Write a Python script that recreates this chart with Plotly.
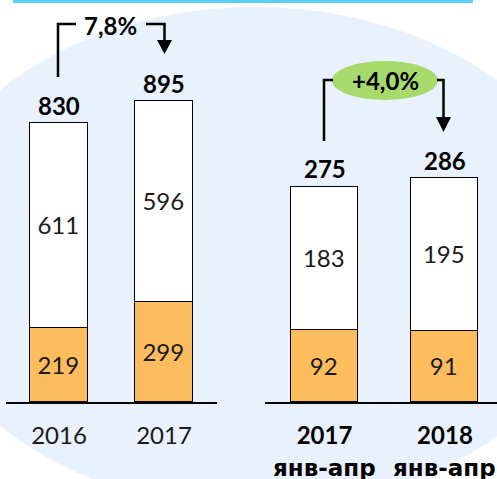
import plotly.graph_objects as go

W, H = 497, 479

# ---- data ----
years = ["2016", "2017"]
ytd_years = ["2017", "2018"]
ytd_period = "янв-апр"
annual_bottom = [219, 299]
annual_top = [611, 596]
annual_total = [830, 895]
ytd_bottom = [92, 91]
ytd_top = [183, 195]
ytd_total = [275, 286]
growth_annual = "7,8%"
growth_ytd = "+4,0%"

# ---- styles ----
ORANGE = "#fdbc5e"
GREEN = "#a8d96c"
BG_BLUE = "#e9f2fc"
TOP_LINE = "#5ecdf3"
TXT = "#1a1a1a"
FONT = "Lato"
FS = 24


def px(x):
    return x / W


def py(y):
    return 1 - y / H


fig = go.Figure()

pos = [0, 1]
for xa, ya, bottom, top, width in [
    ("x", "y", annual_bottom, annual_top, 0.552),
    ("x2", "y2", ytd_bottom, ytd_top, 0.556),
]:
    fig.add_trace(go.Bar(
        x=pos, y=bottom, xaxis=xa, yaxis=ya, width=width,
        marker=dict(color=ORANGE, line=dict(color="#000", width=1.5)),
        text=[str(v) for v in bottom], textposition="inside",
        insidetextanchor="middle", textangle=0,
        textfont=dict(family=FONT, size=FS, color=TXT),
        hoverinfo="skip",
    ))
    fig.add_trace(go.Bar(
        x=pos, y=top, xaxis=xa, yaxis=ya, width=width,
        marker=dict(color="#ffffff", line=dict(color="#000", width=1.5)),
        text=[str(v) for v in top], textposition="inside",
        insidetextanchor="middle", textangle=0,
        textfont=dict(family=FONT, size=FS, color=TXT),
        hoverinfo="skip",
    ))

annotations = []
for xr, yr, totals in [("x", "y", annual_total), ("x2", "y2", ytd_total)]:
    for i, t in enumerate(totals):
        annotations.append(dict(
            x=pos[i], y=t, xref=xr, yref=yr, text=f"<b>{t}</b>",
            showarrow=False, xanchor="center", yanchor="middle", yshift=18,
            font=dict(family=FONT, size=FS, color="#000"),
        ))

# second line of the YTD category labels
for i in pos:
    annotations.append(dict(
        x=i, y=py(468), xref="x2", yref="paper", text=f"<b>{ytd_period}</b>",
        showarrow=False, xanchor="center", yanchor="middle",
        font=dict(family="DejaVu Sans", size=23, color="#000"),
    ))

annotations.append(dict(
    x=px(110), y=py(25), xref="paper", yref="paper",
    text=f"<b>{growth_annual}</b>", showarrow=False,
    xanchor="center", yanchor="middle",
    font=dict(family=FONT, size=FS, color="#000"),
))
annotations.append(dict(
    x=px(385), y=py(81), xref="paper", yref="paper",
    text=f"<b>{growth_ytd}</b>", showarrow=False,
    xanchor="center", yanchor="middle",
    font=dict(family=FONT, size=FS, color="#000"),
))


def path(points, close=False):
    s = " ".join(("M" if k == 0 else "L") + f" {px(x):.5f},{py(y):.5f}"
                 for k, (x, y) in enumerate(points))
    return s + (" Z" if close else "")


shapes = [
    # background ellipse
    dict(type="circle", xref="paper", yref="paper", layer="below",
         x0=px(255 - 343), x1=px(255 + 343), y0=py(258 + 251), y1=py(258 - 251),
         fillcolor=BG_BLUE, line=dict(width=0)),
    # top line
    dict(type="line", xref="paper", yref="paper",
         x0=px(13), x1=px(473), y0=py(1.5), y1=py(1.5),
         line=dict(color=TOP_LINE, width=3)),
    # green ellipse
    dict(type="circle", xref="paper", yref="paper", layer="below",
         x0=px(332), x1=px(438), y0=py(100), y1=py(61),
         fillcolor=GREEN, line=dict(width=0)),
]
LINE = dict(color="#000", width=2.5)
for pts in [
    [(58, 77), (58, 24), (76, 24)],
    [(146, 24), (164.5, 24), (164.5, 42)],
    [(324, 141), (324, 80), (333, 80)],
    [(437, 80), (443.5, 80), (443.5, 119)],
]:
    shapes.append(dict(type="path", xref="paper", yref="paper",
                       path=path(pts), line=LINE))
for cx, ty, by in [(164.5, 40, 54), (443.5, 117, 132)]:
    shapes.append(dict(type="path", xref="paper", yref="paper",
                       path=path([(cx - 7.5, ty), (cx + 7.5, ty), (cx, by)], True),
                       fillcolor="#000", line=dict(width=0)))

base_y = py(402)
fig.update_layout(
    width=W, height=H, margin=dict(l=0, r=0, t=0, b=0),
    paper_bgcolor="#ffffff", plot_bgcolor="rgba(0,0,0,0)",
    barmode="stack", bargap=0, showlegend=False,
    annotations=annotations, shapes=shapes,
    xaxis=dict(domain=[px(6), px(217)], range=[-0.505, 1.505],
               tickvals=pos, ticktext=years, showgrid=False, zeroline=False,
               showline=True, linecolor="#000", linewidth=1.5, ticks="",
               ticklabelstandoff=11, anchor="y",
               tickfont=dict(family=FONT, size=FS, color=TXT)),
    yaxis=dict(domain=[base_y, 1], range=[0, 1196], visible=False, anchor="x"),
    xaxis2=dict(domain=[px(265), 1], range=[-0.494, 1.432],
                tickvals=pos,
                ticktext=[f"<b>{y}</b>" for y in ytd_years],
                showgrid=False, zeroline=False,
                showline=True, linecolor="#000", linewidth=1.5, ticks="",
                ticklabelstandoff=11, anchor="y2",
                tickfont=dict(family=FONT, size=FS, color="#000")),
    yaxis2=dict(domain=[base_y, 1], range=[0, 514], visible=False, anchor="x2"),
)

fig.write_html(
    "out.html",
    config={"displayModeBar": False},
    post_script="document.body.style.margin='0';document.body.style.overflow='hidden';",
)
